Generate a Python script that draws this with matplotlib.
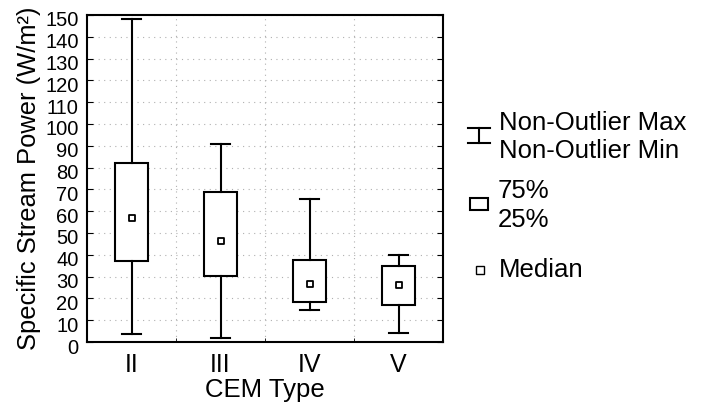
import matplotlib
matplotlib.use("Agg")
import matplotlib.pyplot as plt
from matplotlib.lines import Line2D
from matplotlib.patches import Rectangle
from matplotlib.transforms import ScaledTranslation

plt.rcParams["font.family"] = ["Liberation Sans", "DejaVu Sans"]

categories = ["II", "III", "IV", "V"]
whisker_hi = [148.0, 90.6, 65.4, 40.0]
q3 = [82.0, 68.7, 37.6, 35.0]
median = [57.0, 46.4, 26.7, 26.3]
q1 = [37.0, 30.2, 18.4, 16.9]
whisker_lo = [3.7, 2.0, 14.7, 4.3]

W, H = 702, 404
fig = plt.figure(figsize=(W / 100, H / 100), dpi=100)
ax = fig.add_axes([87 / W, 1 - 342 / H, (443 - 87) / W, (342 - 15) / H])

stats = []
for name, lo, a, m, b, hi in zip(categories, whisker_lo, q1, median, q3, whisker_hi):
    stats.append({"label": name, "whislo": lo, "q1": a, "med": m, "q3": b, "whishi": hi, "fliers": []})

pos = list(range(len(categories)))
ax.bxp(
    stats,
    positions=pos,
    widths=0.375,
    patch_artist=True,
    showfliers=False,
    boxprops=dict(facecolor="white", edgecolor="black", linewidth=1.5),
    whiskerprops=dict(color="black", linewidth=1.5),
    capprops=dict(color="black", linewidth=1.5),
    capwidths=0.21,
    medianprops=dict(linewidth=0),
    zorder=3,
)
ax.scatter(pos, median, marker="s", s=24, facecolor="white", edgecolor="black", linewidth=1.3, zorder=4)

ax.set_xlim(-0.5, 3.5)
ax.set_ylim(0, 150)
ax.set_yticks(range(0, 151, 10))
ax.set_xticks(pos)
ax.set_xticklabels(categories, fontsize=18)
ax.set_xticks([0.5, 1.5, 2.5], minor=True)
ax.tick_params(axis="y", labelsize=14.5, direction="in", length=4, right=True, pad=6)
ax.tick_params(axis="x", which="major", length=0, pad=8)
ax.tick_params(axis="x", which="minor", direction="in", length=3)
ax.grid(axis="y", which="major", color="#b0b0b0", linestyle=(0, (1, 4)), linewidth=0.8)
ax.grid(axis="x", which="minor", color="#b0b0b0", linestyle=(0, (1, 4)), linewidth=0.8)
ax.set_axisbelow(True)
for s in ax.spines.values():
    s.set_linewidth(1.5)

# y tick labels sit a little below their ticks in the original
shift = ScaledTranslation(0, -4 / 100, fig.dpi_scale_trans)
for lab in ax.get_yticklabels():
    lab.set_transform(lab.get_transform() + shift)

ax.set_xlabel("CEM Type", fontsize=18.5, labelpad=1)
ax.set_ylabel("Specific Stream Power (W/m²)", fontsize=18.4, labelpad=3)


# legend drawn in pixel coordinates of the figure
def fx(x):
    return x / W


def fy(y):
    return 1 - y / H


lw = 1.5
fig.add_artist(Line2D([fx(468), fx(490)], [fy(128), fy(128)], color="black", lw=lw))
fig.add_artist(Line2D([fx(468), fx(490)], [fy(143), fy(143)], color="black", lw=lw))
fig.add_artist(Line2D([fx(479), fx(479)], [fy(128), fy(143)], color="black", lw=lw))
fig.text(fx(499), fy(123), "Non-Outlier Max", fontsize=18.5, va="center", ha="left")
fig.text(fx(499), fy(151), "Non-Outlier Min", fontsize=18.5, va="center", ha="left")

fig.add_artist(Rectangle((fx(470), fy(210)), fx(18), 12 / H, facecolor="white", edgecolor="black", lw=lw))
fig.text(fx(498), fy(191), "75%", fontsize=18.5, va="center", ha="left")
fig.text(fx(498), fy(220), "25%", fontsize=18.5, va="center", ha="left")

fig.add_artist(Line2D([fx(479.5)], [fy(270)], marker="s", markersize=5.5, markerfacecolor="white",
                      markeredgecolor="black", markeredgewidth=1.0, linestyle="none"))
fig.text(fx(499), fy(270), "Median", fontsize=18.5, va="center", ha="left")

fig.savefig("out.png", dpi=100, facecolor="white")
